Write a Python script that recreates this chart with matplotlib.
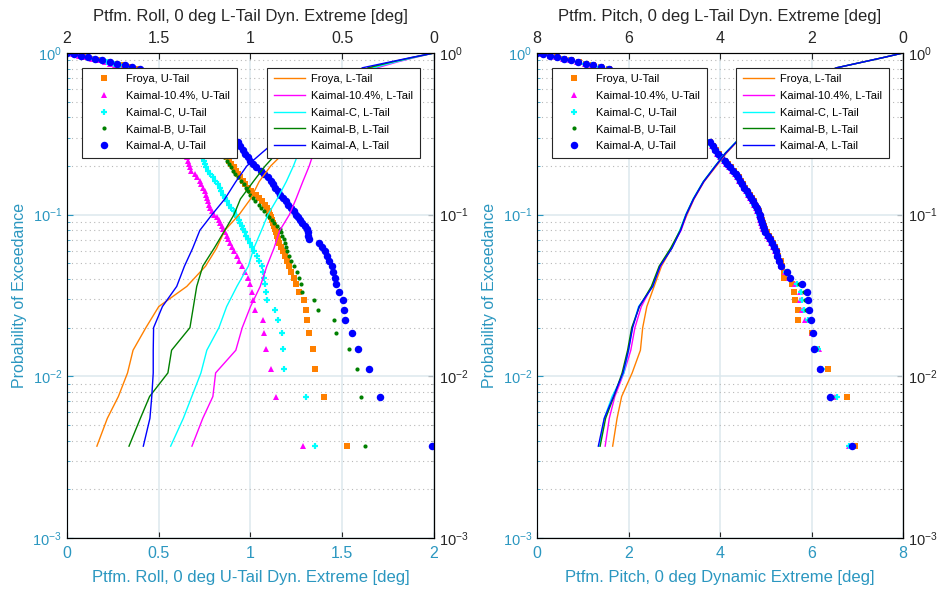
import matplotlib.pyplot as plt
from matplotlib.lines import Line2D

plt.rcParams['font.family'] = ['Liberation Sans', 'DejaVu Sans']

TEAL = '#2b97c0'
DARK = '#262626'
GRID = '#dce8ee'

NAMES = ['Froya', 'Kaimal-10.4%', 'Kaimal-C', 'Kaimal-B', 'Kaimal-A']
COLORS = ['#ff8000', '#ff00ff', '#00ffff', '#008000', '#0000ff']

# exceedance probability of each plotted U-tail sample
P_MARK = [0.0037, 0.0074, 0.0111, 0.0148, 0.0185, 0.0222, 0.0259, 0.0296, 0.0333, 0.037,
          0.0407, 0.0444, 0.0481, 0.0519, 0.0556, 0.0593, 0.063, 0.0667, 0.0704, 0.0741,
          0.0778, 0.0815, 0.0852, 0.0889, 0.0926, 0.0963, 0.1,
          0.105, 0.11, 0.115, 0.121, 0.127, 0.133, 0.14, 0.147, 0.154, 0.162,
          0.17, 0.178, 0.187, 0.196, 0.206, 0.216, 0.227, 0.238, 0.25, 0.265,
          0.28, 0.35, 0.45, 0.55, 0.65, 0.75,
          0.8, 0.82, 0.84, 0.86, 0.88, 0.9, 0.92, 0.94, 0.96, 0.98, 1.0]
# exceedance probability of each L-tail line vertex
P_LINE = [0.0037, 0.0055, 0.0075, 0.0105, 0.0145, 0.02, 0.027, 0.036, 0.048, 0.062,
          0.08, 0.1, 0.125, 0.16, 0.2, 0.24, 0.3, 0.4, 0.55, 0.7, 0.81, 0.88, 0.94, 1.0]

# Platform roll [deg], U-tail
ROLL_U_FROYA = [1.526, 1.40, 1.351, 1.34, 1.317, 1.31, 1.30, 1.29, 1.262, 1.247,
                1.235, 1.223, 1.212, 1.20, 1.19, 1.178, 1.165, 1.155, 1.15, 1.145,
                1.14, 1.135, 1.128, 1.122, 1.117, 1.112, 1.106,
                1.10, 1.09, 1.08, 1.065, 1.045, 1.028, 1.005, 0.985, 0.972, 0.958,
                0.945, 0.932, 0.92, 0.908, 0.895, 0.884, 0.872, 0.86, 0.845, 0.825,
                0.80, 0.72, 0.63, 0.56, 0.50, 0.44,
                0.39, 0.345, 0.306, 0.265, 0.227, 0.185, 0.142, 0.108, 0.075, 0.038, 0.0]
ROLL_U_K104 = [1.286, 1.137, 1.113, 1.082, 1.071, 1.066, 1.027, 1.014, 1.008, 0.998,
               0.985, 0.968, 0.953, 0.938, 0.925, 0.912, 0.90, 0.89, 0.88, 0.87,
               0.861, 0.852, 0.843, 0.834, 0.826, 0.815, 0.803,
               0.789, 0.782, 0.775, 0.768, 0.762, 0.757, 0.751, 0.741, 0.733, 0.724,
               0.71, 0.695, 0.677, 0.668, 0.663, 0.658, 0.652, 0.64, 0.625, 0.605,
               0.58, 0.52, 0.46, 0.41, 0.37, 0.33,
               0.30, 0.28, 0.26, 0.235, 0.205, 0.17, 0.135, 0.10, 0.068, 0.034, 0.0]
ROLL_U_KC = [1.349, 1.304, 1.18, 1.177, 1.171, 1.149, 1.135, 1.089, 1.085, 1.079,
             1.072, 1.067, 1.061, 1.047, 1.034, 1.021, 1.008, 0.999, 0.989, 0.978,
             0.97, 0.961, 0.952, 0.944, 0.936, 0.929, 0.921,
             0.91, 0.894, 0.884, 0.872, 0.86, 0.85, 0.842, 0.832, 0.821, 0.808,
             0.793, 0.78, 0.768, 0.758, 0.75, 0.744, 0.737, 0.725, 0.71, 0.69,
             0.67, 0.60, 0.53, 0.47, 0.42, 0.37,
             0.34, 0.32, 0.29, 0.255, 0.22, 0.183, 0.145, 0.11, 0.075, 0.038, 0.0]
ROLL_U_KB = [1.622, 1.604, 1.58, 1.538, 1.466, 1.453, 1.368, 1.344, 1.28, 1.273,
             1.263, 1.251, 1.236, 1.222, 1.212, 1.201, 1.194, 1.187, 1.18, 1.174,
             1.168, 1.16, 1.143, 1.128, 1.115, 1.103, 1.09,
             1.071, 1.058, 1.045, 1.027, 1.012, 1.0, 0.987, 0.975, 0.962, 0.948,
             0.93, 0.918, 0.905, 0.895, 0.884, 0.872, 0.858, 0.845, 0.83, 0.81,
             0.79, 0.71, 0.62, 0.55, 0.49, 0.43,
             0.385, 0.35, 0.31, 0.27, 0.232, 0.19, 0.148, 0.112, 0.076, 0.038, 0.0]
ROLL_U_KA = [1.99, 1.708, 1.648, 1.584, 1.551, 1.513, 1.511, 1.505, 1.48, 1.465,
             1.458, 1.452, 1.442, 1.428, 1.417, 1.404, 1.39, 1.375, 1.318, 1.315,
             1.311, 1.307, 1.295, 1.283, 1.272, 1.26, 1.249,
             1.236, 1.222, 1.207, 1.193, 1.178, 1.163, 1.148, 1.135, 1.124, 1.11,
             1.093, 1.075, 1.055, 1.032, 1.012, 0.998, 0.985, 0.972, 0.96, 0.945,
             0.93, 0.84, 0.72, 0.62, 0.54, 0.46,
             0.40, 0.355, 0.315, 0.275, 0.235, 0.193, 0.15, 0.113, 0.077, 0.04, 0.0]

# Platform roll [deg], L-tail (magnitude)
ROLL_L_FROYA = [1.837, 1.78, 1.72, 1.67, 1.64, 1.57, 1.50, 1.347, 1.245, 1.185, 1.14, 1.062,
                1.0, 0.953, 0.89, 0.82, 0.74, 0.63, 0.52, 0.42, 0.347, 0.22, 0.11, 0.0]
ROLL_L_K104 = [1.319, 1.26, 1.205, 1.19, 1.08, 1.045, 1.0, 0.947, 0.911, 0.872, 0.84, 0.788,
               0.752, 0.715, 0.68, 0.657, 0.60, 0.52, 0.44, 0.37, 0.31, 0.20, 0.10, 0.0]
ROLL_L_KC = [1.435, 1.366, 1.32, 1.27, 1.238, 1.172, 1.13, 1.074, 1.012, 0.982, 0.94, 0.905,
             0.855, 0.805, 0.766, 0.739, 0.67, 0.58, 0.48, 0.40, 0.33, 0.21, 0.105, 0.0]
ROLL_L_KB = [1.662, 1.60, 1.55, 1.45, 1.43, 1.33, 1.311, 1.293, 1.26, 1.198, 1.14, 1.09,
             1.055, 0.985, 0.92, 0.857, 0.77, 0.66, 0.54, 0.43, 0.36, 0.23, 0.115, 0.0]
ROLL_L_KA = [1.584, 1.548, 1.538, 1.53, 1.53, 1.528, 1.48, 1.402, 1.36, 1.315, 1.276, 1.21,
             1.14, 1.08, 1.02, 0.94, 0.84, 0.72, 0.59, 0.47, 0.39, 0.24, 0.12, 0.0]

# Platform pitch [deg], U-tail
PITCH_U_FROYA = [6.958, 6.776, 6.352, 6.12, 6.01, 5.70, 5.697, 5.646, 5.61, 5.573,
                 5.39, 5.39, 5.36, 5.33, 5.27, 5.24, 5.20, 5.15, 5.11, 5.07,
                 5.02, 4.985, 4.96, 4.935, 4.915, 4.895, 4.875,
                 4.85, 4.815, 4.775, 4.735, 4.695, 4.645, 4.60, 4.55, 4.505, 4.455,
                 4.405, 4.355, 4.305, 4.235, 4.175, 4.115, 4.035, 3.975, 3.915, 3.855,
                 3.79, 3.46, 3.06, 2.71, 2.41, 2.06,
                 1.58, 1.40, 1.23, 1.07, 0.91, 0.75, 0.59, 0.44, 0.29, 0.14, 0.0]
PITCH_U_K104 = [6.81, 6.52, 6.19, 6.155, 6.01, 5.865, 5.792, 5.755, 5.74, 5.64,
                5.50, 5.43, 5.33, 5.29, 5.24, 5.20, 5.16, 5.12, 5.08, 5.03,
                4.98, 4.945, 4.92, 4.90, 4.885, 4.87, 4.85,
                4.815, 4.78, 4.74, 4.70, 4.66, 4.61, 4.565, 4.515, 4.47, 4.42,
                4.37, 4.32, 4.27, 4.20, 4.14, 4.08, 4.00, 3.94, 3.88, 3.82,
                3.76, 3.43, 3.03, 2.68, 2.38, 2.03,
                1.55, 1.37, 1.20, 1.04, 0.88, 0.72, 0.57, 0.42, 0.28, 0.14, 0.0]
PITCH_U_KC = [6.83, 6.55, 6.22, 6.14, 6.04, 5.93, 5.84, 5.80, 5.78, 5.68,
              5.52, 5.45, 5.34, 5.31, 5.26, 5.22, 5.18, 5.13, 5.09, 5.04,
              4.99, 4.96, 4.935, 4.91, 4.895, 4.88, 4.86,
              4.825, 4.79, 4.75, 4.71, 4.67, 4.62, 4.575, 4.525, 4.48, 4.43,
              4.38, 4.33, 4.28, 4.21, 4.15, 4.09, 4.01, 3.95, 3.89, 3.83,
              3.77, 3.44, 3.04, 2.69, 2.39, 2.04,
              1.56, 1.38, 1.21, 1.05, 0.89, 0.73, 0.57, 0.43, 0.28, 0.14, 0.0]
PITCH_U_KB = [6.86, 6.45, 6.21, 6.10, 6.02, 5.95, 5.88, 5.86, 5.84, 5.73,
              5.54, 5.47, 5.35, 5.30, 5.25, 5.21, 5.17, 5.12, 5.08, 5.04,
              4.99, 4.95, 4.93, 4.91, 4.89, 4.875, 4.855,
              4.825, 4.79, 4.75, 4.71, 4.67, 4.62, 4.575, 4.525, 4.48, 4.43,
              4.38, 4.33, 4.28, 4.21, 4.15, 4.09, 4.01, 3.95, 3.89, 3.83,
              3.77, 3.44, 3.04, 2.69, 2.39, 2.04,
              1.56, 1.38, 1.21, 1.05, 0.89, 0.73, 0.58, 0.43, 0.29, 0.14, 0.0]
PITCH_U_KA = [6.885, 6.41, 6.19, 6.06, 6.03, 5.996, 5.937, 5.923, 5.90, 5.79,
              5.53, 5.465, 5.33, 5.29, 5.245, 5.215, 5.18, 5.14, 5.10, 5.05,
              4.99, 4.955, 4.935, 4.915, 4.90, 4.885, 4.865,
              4.835, 4.80, 4.76, 4.72, 4.68, 4.63, 4.585, 4.535, 4.49, 4.44,
              4.39, 4.34, 4.29, 4.22, 4.16, 4.10, 4.02, 3.96, 3.90, 3.84,
              3.78, 3.45, 3.05, 2.70, 2.40, 2.05,
              1.57, 1.39, 1.22, 1.06, 0.90, 0.74, 0.58, 0.43, 0.29, 0.14, 0.0]

# Platform pitch [deg], L-tail (magnitude)
PITCH_L_FROYA = [6.346, 6.25, 6.15, 5.92, 5.74, 5.69, 5.60, 5.44, 5.28, 5.06, 4.87, 4.72,
                 4.57, 4.35, 4.08, 3.86, 3.55, 3.05, 2.5, 2.0, 1.45, 0.87, 0.41, 0.0]
PITCH_L_K104 = [6.51, 6.42, 6.30, 6.10, 5.95, 5.86, 5.72, 5.49, 5.30, 5.07, 4.85, 4.73,
                4.57, 4.35, 4.09, 3.87, 3.55, 3.05, 2.5, 2.0, 1.45, 0.87, 0.41, 0.0]
PITCH_L_KC = [6.63, 6.53, 6.36, 6.10, 6.0, 5.92, 5.78, 5.47, 5.32, 5.06, 4.88, 4.75,
              4.59, 4.37, 4.11, 3.89, 3.56, 3.06, 2.5, 2.0, 1.45, 0.87, 0.41, 0.0]
PITCH_L_KB = [6.62, 6.50, 6.32, 6.14, 6.02, 5.93, 5.76, 5.50, 5.33, 5.08, 4.87, 4.74,
              4.58, 4.36, 4.10, 3.88, 3.55, 3.05, 2.5, 2.0, 1.45, 0.87, 0.41, 0.0]
PITCH_L_KA = [6.66, 6.53, 6.33, 6.12, 6.0, 5.91, 5.77, 5.47, 5.31, 5.05, 4.86, 4.74,
              4.58, 4.36, 4.10, 3.88, 3.55, 3.05, 2.5, 2.0, 1.45, 0.87, 0.41, 0.0]

ROLL_TICKS = [0, 0.5, 1, 1.5, 2]
PITCH_TICKS = [0, 2, 4, 6, 8]

# marker style per series for the U-tail scatter
MARKERS = [
    dict(marker='s', ms=4.3, mew=0),
    dict(marker='^', ms=5.0, mew=0),
    dict(marker='+', ms=4.2, mew=1.6),
    dict(marker='o', ms=3.0, mew=0),
    dict(marker='o', ms=5.4, mew=0),
]


def draw_panel(ax, xmax, ticks, u_series, l_series, bottom_label, top_label):
    ax.set_yscale('log')
    ax.set_ylim(1e-3, 1)
    ax.set_xlim(0, xmax)
    ax.set_xticks(ticks)
    ax.set_xticklabels([f'{t:g}' for t in ticks])

    ax.grid(which='major', color=GRID, lw=1.1, zorder=0)
    ax.grid(which='minor', axis='y', color='#b8b8b8', lw=0.8, ls=(0, (1, 3)), zorder=0)
    ax.set_axisbelow(True)

    for vals, color, st in zip(u_series, COLORS, MARKERS):
        ax.plot(vals, P_MARK, ls='none', color=color, mfc=color, mec=color, **st)

    ax.tick_params(which='both', direction='in', colors=DARK, top=False, right=False)
    ax.tick_params(which='major', length=4)
    ax.tick_params(which='minor', length=2)
    ax.tick_params(axis='x', pad=6, labelsize=11.5)
    ax.tick_params(axis='y', labelsize=10.5)
    ax.tick_params(axis='both', labelcolor=TEAL)
    ax.tick_params(axis='y', which='both', color=TEAL)
    ax.set_xlabel(bottom_label, color=TEAL, fontsize=12, labelpad=6)
    ax.set_ylabel('Probability of Exceedance', color=TEAL, fontsize=11.5, labelpad=4)
    for side in ('top', 'right', 'bottom'):
        ax.spines[side].set_color(DARK)
    ax.spines['left'].set_color(TEAL)

    # right-hand probability axis
    sec = ax.secondary_yaxis('right')
    sec.tick_params(which='both', direction='in', colors=DARK, labelsize=10.5)
    sec.tick_params(which='major', length=4)
    sec.tick_params(which='minor', length=2)
    sec.spines['right'].set_color(DARK)
    sec.xaxis.set_visible(False)

    # L-tail magnitudes on a reversed top axis
    axt = ax.twiny()
    axt.set_xlim(xmax, 0)
    axt.set_xticks(ticks)
    axt.set_xticklabels([f'{t:g}' for t in ticks])
    axt.tick_params(which='both', direction='in', colors=DARK, labelsize=11.5, length=4, pad=5)
    axt.set_xlabel(top_label, color=DARK, fontsize=12, labelpad=7)
    for vals, color in zip(l_series, COLORS):
        axt.plot(vals, P_LINE, color=color, lw=1.0)

    u_handles = [Line2D([], [], ls='none', color=c, mfc=c, mec=c, label=f'{n}, U-Tail', **st)
                 for n, c, st in zip(NAMES, COLORS, MARKERS)]
    l_handles = [Line2D([], [], color=c, lw=1.0, label=f'{n}, L-Tail') for n, c in zip(NAMES, COLORS)]
    leg_kw = dict(fontsize=8, frameon=True, fancybox=False, framealpha=1, edgecolor=DARK,
                  borderpad=0.6, labelspacing=0.6, handlelength=2.8, handletextpad=0.6,
                  borderaxespad=0, numpoints=1)
    leg_u = axt.legend(handles=u_handles, loc='upper left', bbox_to_anchor=(0.041, 0.97), **leg_kw)
    leg_u.get_frame().set_linewidth(0.8)
    axt.add_artist(leg_u)
    leg_l = axt.legend(handles=l_handles, loc='upper right', bbox_to_anchor=(0.962, 0.97), **leg_kw)
    leg_l.get_frame().set_linewidth(0.8)
    return axt


fig = plt.figure(figsize=(9.38, 5.92), dpi=100)
ax_roll = fig.add_axes([0.0714, 0.0912, 0.3913, 0.8193])
ax_pitch = fig.add_axes([0.5725, 0.0912, 0.3902, 0.8193])

draw_panel(ax_roll, 2, ROLL_TICKS,
           [ROLL_U_FROYA, ROLL_U_K104, ROLL_U_KC, ROLL_U_KB, ROLL_U_KA],
           [ROLL_L_FROYA, ROLL_L_K104, ROLL_L_KC, ROLL_L_KB, ROLL_L_KA],
           'Ptfm. Roll, 0 deg U-Tail Dyn. Extreme [deg]',
           'Ptfm. Roll, 0 deg L-Tail Dyn. Extreme [deg]')
draw_panel(ax_pitch, 8, PITCH_TICKS,
           [PITCH_U_FROYA, PITCH_U_K104, PITCH_U_KC, PITCH_U_KB, PITCH_U_KA],
           [PITCH_L_FROYA, PITCH_L_K104, PITCH_L_KC, PITCH_L_KB, PITCH_L_KA],
           'Ptfm. Pitch, 0 deg Dynamic Extreme [deg]',
           'Ptfm. Pitch, 0 deg L-Tail Dyn. Extreme [deg]')

fig.savefig('out.png', dpi=100)
